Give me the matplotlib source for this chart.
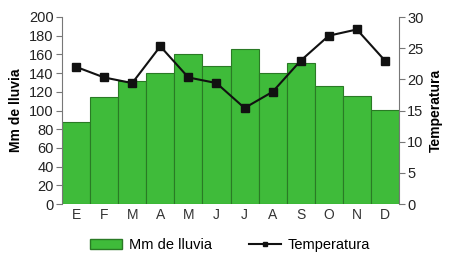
import matplotlib
matplotlib.use("Agg")
import matplotlib.pyplot as plt
from matplotlib.lines import Line2D
from matplotlib.patches import Patch

months = ["E", "F", "M", "A", "M", "J", "J", "A", "S", "O", "N", "D"]
lluvia = [88, 114, 132, 140, 160, 148, 166, 140, 151, 126, 115, 101]
temperatura = [22, 20.3, 19.4, 25.3, 20.3, 19.4, 15.4, 18, 23, 27, 28, 23]

plt.rcParams['font.family'] = ['Liberation Sans', 'DejaVu Sans']

fig = plt.figure(figsize=(4.51, 2.58), dpi=100)
ax = fig.add_axes([62/451, 54/258, (399-62)/451, (204-17)/258])
x = list(range(len(months)))
ax.bar(x, lluvia, width=1.0, color='#3fbb3a', edgecolor='#2a7a25', linewidth=0.8, zorder=2)
ax.set_xlim(-0.5, 11.5)
ax.set_ylim(0, 200)
ax.set_yticks(range(0, 201, 20))
ax.set_xticks(x)
ax.set_xticklabels(months)
ax.spines['top'].set_visible(False)
ax.spines['bottom'].set_visible(False)
ax.spines['right'].set_visible(False)
ax.spines['left'].set_color('#777777')
ax.tick_params(axis='y', colors='#777777', labelcolor='#222222', labelsize=10.5, length=4, width=0.8, pad=2)
ax.tick_params(axis='x', length=0, labelsize=10, labelcolor='#333333', pad=3)
ax.set_ylabel("Mm de lluvia", fontweight='bold', fontsize=10, labelpad=4)

ax2 = ax.twinx()
ax2.plot(x, temperatura, color='#111111', linewidth=1.5, marker='s', markersize=5.5, zorder=3)
ax2.set_ylim(0, 30)
ax2.set_yticks(range(0, 31, 5))
for s in ['top', 'bottom', 'left']:
    ax2.spines[s].set_visible(False)
ax2.spines['right'].set_color('#777777')
ax2.tick_params(axis='y', colors='#777777', labelcolor='#222222', labelsize=10.5, length=4, width=0.8, pad=2)
ax2.set_ylabel("Temperatura", fontweight='bold', fontsize=10, labelpad=4)

handles = [Patch(facecolor='#3fbb3a', edgecolor='#2a7a25', label='Mm de lluvia'),
           Line2D([0], [0], color='#111111', marker='s', markersize=3, linewidth=1.5, label='Temperatura')]
fig.legend(handles=handles, loc='center', bbox_to_anchor=(0.51, 13/258), ncol=2, frameon=False,
           fontsize=10.5, handlelength=2.2, columnspacing=2.5, handletextpad=0.5)

fig.savefig("out.png", dpi=100)
